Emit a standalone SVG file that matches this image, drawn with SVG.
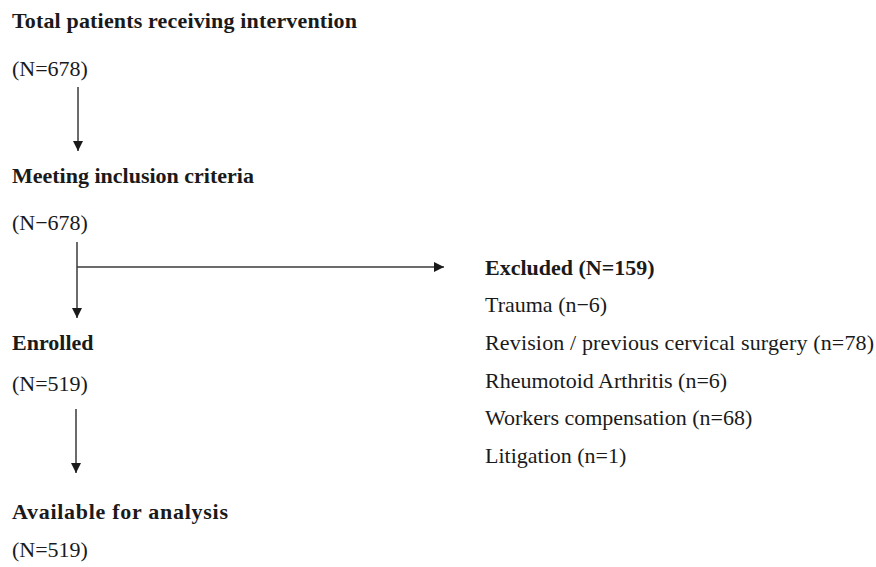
<svg xmlns="http://www.w3.org/2000/svg" width="876" height="567" viewBox="0 0 876 567">
<defs>
<marker id="ah" viewBox="0 0 10 10" refX="10" refY="5" markerWidth="10" markerHeight="10" markerUnits="userSpaceOnUse" orient="auto">
<path d="M0,0 L10,5 L0,10 Z" fill="#1a1a1a"/>
</marker>
</defs>
<style>
text{font-family:"Liberation Serif","Times New Roman",serif;font-size:22px;fill:#1a1a1a}
.b{font-weight:bold}
.ln{stroke:#3a3a3a;stroke-width:1.5;fill:none}
</style>
<rect width="876" height="567" fill="#fff"/>
<g id="n1"><text class="b" x="12" y="28" textLength="345" lengthAdjust="spacing">Total patients receiving intervention</text><text x="12" y="76">(N=678)</text></g>
<g id="n2"><text class="b" x="12" y="183">Meeting inclusion criteria</text><text x="12" y="230">(N−678)</text></g>
<g id="n3"><text class="b" x="12" y="350">Enrolled</text><text x="12" y="391">(N=519)</text></g>
<g id="n4"><text class="b" x="12" y="519" textLength="216" lengthAdjust="spacing">Available for analysis</text><text x="12" y="557">(N=519)</text></g>
<g id="n5"><text class="b" x="485" y="275">Excluded (N=159)</text>
<text x="485" y="312">Trauma (n−6)</text>
<text x="485" y="350" textLength="389" lengthAdjust="spacing">Revision / previous cervical surgery (n=78)</text>
<text x="485" y="388">Rheumotoid Arthritis (n=6)</text>
<text x="485" y="425">Workers compensation (n=68)</text>
<text x="485" y="463">Litigation (n=1)</text></g>
<g id="connectors">
<line class="ln" x1="78" y1="87" x2="78" y2="151" marker-end="url(#ah)"/>
<line class="ln" x1="77" y1="242" x2="77" y2="318" marker-end="url(#ah)"/>
<line class="ln" x1="77" y1="267" x2="444" y2="267" marker-end="url(#ah)"/>
<line class="ln" x1="76" y1="409" x2="76" y2="473" marker-end="url(#ah)"/>
</g>
</svg>
